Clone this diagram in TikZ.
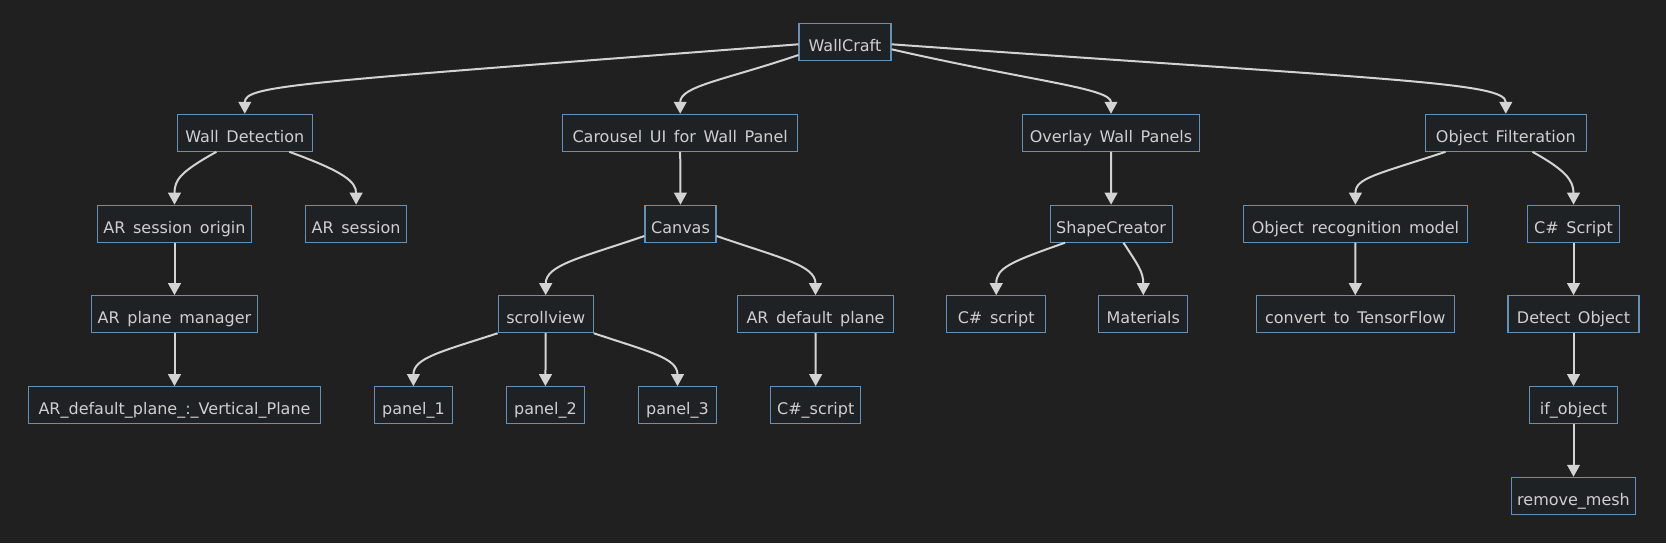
\documentclass[tikz,border=0pt]{standalone}
\usepackage{fontspec}
\setmainfont[WordSpace={1.5,0,0}]{DejaVu Sans}
\usetikzlibrary{arrows.meta,calc}
\definecolor{bgc}{HTML}{202020}
\definecolor{boxfill}{HTML}{1E2224}
\definecolor{boxline}{HTML}{6590B8}
\definecolor{txtc}{HTML}{CFCFCF}
\definecolor{edgec}{HTML}{D3D3D3}
\tikzset{
  box/.style={draw=boxline, fill=boxfill, line width=0.8pt, rectangle,
    inner sep=0pt, minimum height=27.75pt, text=txtc,
    font=\fontsize{12pt}{14pt}\selectfont, text height=14.5pt, text depth=0.3pt},
  bw/.style={minimum width=#1*0.75pt},
  edge/.style={draw=edgec, line width=1.5pt, -{Triangle[length=9pt,width=9.5pt]}},
}
\begin{document}
\begin{tikzpicture}[x=0.75pt,y=-0.75pt]
\fill[bgc] (0,0) rectangle (1666,543);
\useasboundingbox (0,0) rectangle (1666,543);
% row 1
\node[box,bw=92] (wc) at (845,41.8) {WallCraft};
% row 2
\node[box,bw=135.4] (wd) at (244.8,132.8) {Wall Detection};
\node[box,bw=234.6] (cui) at (680.2,132.8) {Carousel UI for Wall Panel};
\node[box,bw=177] (owp) at (1111,132.8) {Overlay Wall Panels};
\node[box,bw=161] (of) at (1505.8,132.8) {Object Filteration};
% row 3
\node[box,bw=154.7] (aso) at (174.5,223.7) {AR session origin};
\node[box,bw=101.4] (ars) at (356.1,223.7) {AR session};
\node[box,bw=71] (cv) at (680.5,223.7) {Canvas};
\node[box,bw=122] (sc) at (1111.1,223.7) {ShapeCreator};
\node[box,bw=224] (orm) at (1355.4,223.7) {Object recognition model};
\node[box,bw=91.3] (cs) at (1573.5,223.7) {C\# Script};
% row 4
\node[box,bw=166] (apm) at (174.5,314.2) {AR plane manager};
\node[box,bw=95] (sv) at (545.7,314.2) {scrollview};
\node[box,bw=155.3] (adp) at (815.5,314.2) {AR default plane};
\node[box,bw=99] (csa) at (996.2,314.2) {C\# script};
\node[box,bw=88.8] (mat) at (1143.3,314.2) {Materials};
\node[box,bw=198] (ctf) at (1355.3,314.2) {convert to TensorFlow};
\node[box,bw=131] (do) at (1573.5,314.2) {Detect Object};
% row 5
\node[box,bw=292.5] (adpv) at (174.5,405.2) {AR\_default\_plane\_:\_Vertical\_Plane};
\node[box,bw=78.2] (pa) at (413.4,405.2) {panel\_1};
\node[box,bw=78.4] (pb) at (545.4,405.2) {panel\_2};
\node[box,bw=78.6] (pc) at (677.5,405.2) {panel\_3};
\node[box,bw=90] (csb) at (815.7,405.2) {C\#\_script};
\node[box,bw=88.5] (io) at (1573.5,405.2) {if\_object};
% row 6
\node[box,bw=124.5] (rm) at (1573.5,495.8) {remove\_mesh};
% edges from root
\draw[edge] ($(wc.west)+(0,2.5)$) .. controls (299,82.8) and (244.8,85) .. (wd.north);
\draw[edge] ($(wc.west)+(0,13.2)$) .. controls (725,80) and (680.2,86) .. (cui.north);
\draw[edge] ($(wc.east)+(0,7.5)$) .. controls (1030,81) and (1111,88) .. (owp.north);
\draw[edge] ($(wc.east)+(0,2.5)$) .. controls (1389,79.8) and (1505.8,82) .. (of.north);
% wall detection
\draw[edge] ($(wd.south)+(-28.4,0)$) .. controls (180,172) and (174.5,180) .. (aso.north);
\draw[edge] ($(wd.south)+(44.5,0)$) .. controls (345,172) and (356.1,182) .. (ars.north);
\draw[edge] (aso.south) -- (apm.north);
\draw[edge] (apm.south) -- (adpv.north);
% carousel
\draw[edge] (cui.south) -- (cv.north);
\draw[edge] ($(cv.west)+(0,12.3)$) .. controls (580,258) and (545.7,265) .. (sv.north);
\draw[edge] ($(cv.east)+(0,12.3)$) .. controls (780,258) and (815.5,265) .. (adp.north);
\draw[edge] (sv.south west) .. controls (440,352) and (413.4,358) .. (pa.north);
\draw[edge] (sv.south) -- (pb.north);
\draw[edge] (sv.south east) .. controls (650,352) and (677.5,358) .. (pc.north);
\draw[edge] (adp.south) -- (csb.north);
% overlay
\draw[edge] (owp.south) -- (sc.north);
\draw[edge] ($(sc.south)+(-46.1,0)$) .. controls (1010,262) and (996.2,268) .. (csa.north);
\draw[edge] ($(sc.south)+(12.4,0)$) .. controls (1138,265) and (1143.3,272) .. (mat.north);
% object filteration
\draw[edge] ($(of.south)+(-60.3,0)$) .. controls (1375,175) and (1355.4,178) .. (orm.north);
\draw[edge] ($(of.south)+(26.7,0)$) .. controls (1565,170) and (1573.5,180) .. (cs.north);
\draw[edge] (orm.south) -- (ctf.north);
\draw[edge] (cs.south) -- (do.north);
\draw[edge] (do.south) -- (io.north);
\draw[edge] (io.south) -- (rm.north);
\end{tikzpicture}
\end{document}
